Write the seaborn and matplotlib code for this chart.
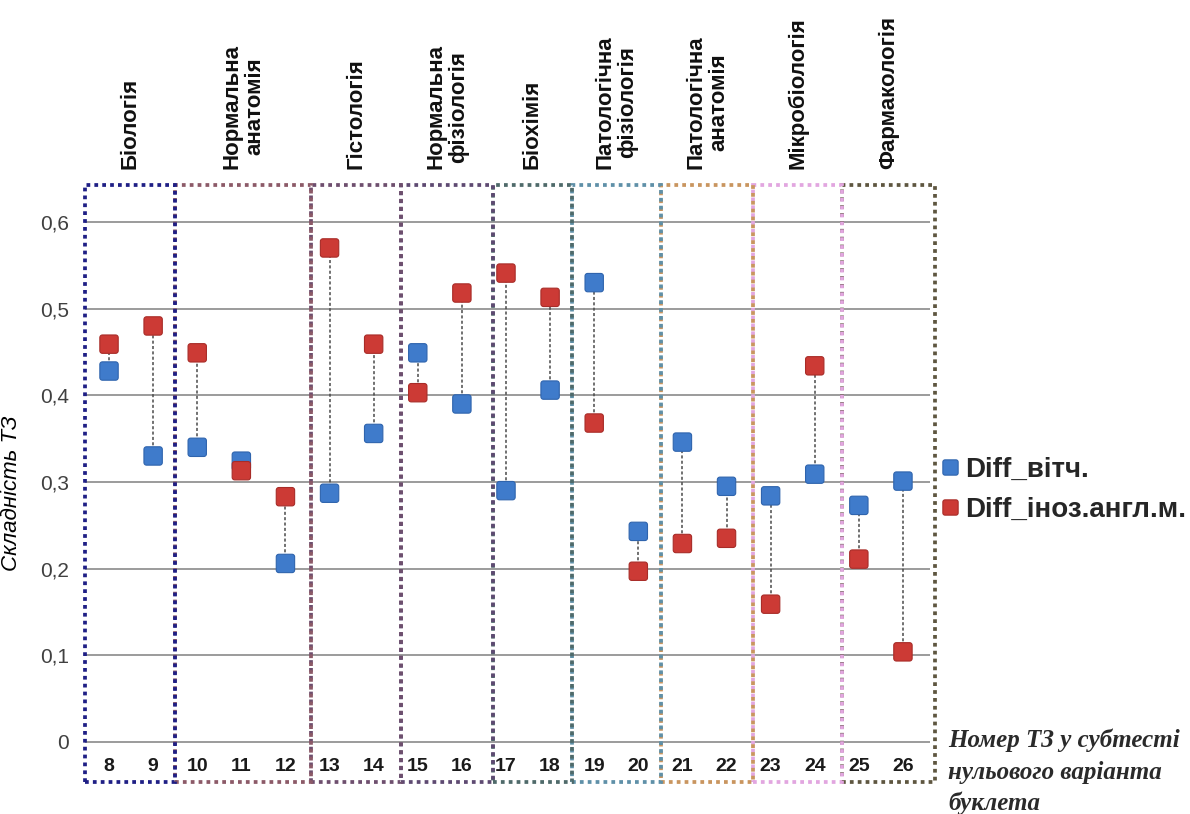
import numpy as np
import pandas as pd
import matplotlib
matplotlib.use("Agg")
import matplotlib.pyplot as plt
from matplotlib.path import Path
from matplotlib.patches import Rectangle
import seaborn as sns

# --- data -------------------------------------------------------------
tz_numbers = [8, 9, 10, 11, 12, 13, 14, 15, 16, 17, 18, 19, 20, 21, 22, 23, 24, 25, 26]
diff_native = [0.428, 0.330, 0.340, 0.324, 0.206, 0.287, 0.356, 0.449, 0.390, 0.290,
               0.406, 0.530, 0.243, 0.346, 0.295, 0.284, 0.309, 0.273, 0.301]
diff_foreign = [0.459, 0.480, 0.449, 0.313, 0.283, 0.570, 0.459, 0.403, 0.518, 0.541,
                0.513, 0.368, 0.197, 0.229, 0.235, 0.159, 0.434, 0.211, 0.104]
series_names = ["Diff_вітч.", "Diff_іноз.англ.м."]

subjects = ["Біологія", "Нормальна\nанатомія", "Гістологія", "Нормальна\nфізіологія",
            "Біохімія", "Патологічна\nфізіологія", "Патологічна\nанатомія",
            "Мікробіологія", "Фармакологія"]

y_ticks = [0.0, 0.1, 0.2, 0.3, 0.4, 0.5, 0.6]
y_tick_labels = ["0", "0,1", "0,2", "0,3", "0,4", "0,5", "0,6"]

# --- styling ----------------------------------------------------------
series_colors = {series_names[0]: "#3f7bcb", series_names[1]: "#cc3a35"}
series_edges = {series_names[0]: "#2f64ad", series_names[1]: "#a82c28"}
box_colors = ["#1f1f85", "#8c5a68", "#6e4f6e", "#5e4a72", "#4f6a6a",
              "#5f90a8", "#c9955f", "#e2a6e0", "#5e5640"]
# frame edges drawn around each subject group (x in TZ units)
box_edges = [7.45, 9.5, 12.58, 14.62, 16.7, 18.5, 20.52, 22.6, 24.62, 26.73]
box_bottom, box_top = -0.046, 0.643

sns.set_theme(style="white")
plt.rcParams["font.family"] = ["Liberation Sans", "DejaVu Sans"]

fig = plt.figure(figsize=(11.9, 8.14), dpi=100)
ax = fig.add_axes([80 / 1190, 24 / 814, 860 / 1190, 610 / 814])
ax.set_xlim(7.342, 26.84)
ax.set_ylim(-0.0554, 0.6484)
for s in ax.spines.values():
    s.set_visible(False)


def rounded_square(r=0.28, n=8):
    verts = []
    for cx, cy, a0 in [(1 - r, 1 - r, 0), (-1 + r, 1 - r, 90),
                       (-1 + r, -1 + r, 180), (1 - r, -1 + r, 270)]:
        for t in np.linspace(a0, a0 + 90, n):
            verts.append((cx + r * np.cos(np.radians(t)), cy + r * np.sin(np.radians(t))))
    verts.append(verts[0])
    return Path(verts, closed=True)


marker_path = rounded_square()

# horizontal grid
ax.hlines(y_ticks, 7.456, 26.62, color="#8a8a8a", lw=1.2, zorder=1)

# dotted connectors between the two series
ax.vlines(tz_numbers, np.minimum(diff_native, diff_foreign),
          np.maximum(diff_native, diff_foreign),
          color="#4a4a4a", lw=1.1, linestyles=(0, (2, 1.5)), zorder=2)

df = pd.DataFrame({
    "tz": tz_numbers * 2,
    "diff": diff_native + diff_foreign,
    "series": [series_names[0]] * len(tz_numbers) + [series_names[1]] * len(tz_numbers),
})
sns.scatterplot(data=df, x="tz", y="diff", hue="series", palette=series_colors,
                marker=marker_path, s=175, linewidth=0.8, ax=ax, zorder=3)
ax.collections[-1].set_edgecolors([series_edges[v] for v in df["series"]])

# dotted frames around subject groups
for i in range(len(subjects) - 1, -1, -1):
    x0, x1 = box_edges[i], box_edges[i + 1]
    rect = Rectangle((x0, box_bottom), x1 - x0, box_top - box_bottom, fill=False,
                     edgecolor=box_colors[i], lw=2.7, linestyle=(0, (1, 1.1)),
                     zorder=4, clip_on=False)
    ax.add_patch(rect)
    ax.text((x0 + x1) / 2, 0.661, subjects[i], rotation=90, ha="center", va="bottom",
            multialignment="center", fontsize=16, fontweight="bold", color="#111111",
            clip_on=False, linespacing=1.1)

# axis labels
ax.set_xticks([])
ax.set_xlabel("")
for tz in tz_numbers:
    ax.text(tz, -0.0288, str(tz), ha="center", va="center", fontsize=14,
            fontweight="bold", color="#1a1a1a")

ax.set_yticks(y_ticks)
ax.set_yticklabels(y_tick_labels, fontsize=15, color="#404040")
ax.tick_params(axis="y", length=0, pad=8)
ax.set_ylabel("Складність ТЗ", fontsize=16, style="italic", color="#000000")
ax.yaxis.set_label_coords(-0.0674, 0.487)

handles, labels = ax.get_legend_handles_labels()
for h, lab in zip(handles, labels):
    h.set_markeredgecolor(series_edges[lab])
    h.set_markerfacecolor(series_colors[lab])
    h.set_markersize(11)
leg = ax.legend(handles, labels, loc="center left", bbox_to_anchor=(942 / 1190, 1 - 490 / 814),
                bbox_transform=fig.transFigure, frameon=False, borderpad=0, borderaxespad=0,
                handlelength=0.55, handletextpad=0.3, labelspacing=0.5,
                prop={"size": 20, "weight": "bold"}, markerscale=1.0)

fig.text(948 / 1190, 1 - 729 / 814, "Номер ТЗ у субтесті\nнульового варіанта\nбуклета",
         ha="left", va="top", fontsize=18, fontweight="bold", style="italic",
         family=["Liberation Serif", "DejaVu Serif"], color="#2a2a2a", linespacing=1.45)

fig.savefig("out.png", dpi=100)
